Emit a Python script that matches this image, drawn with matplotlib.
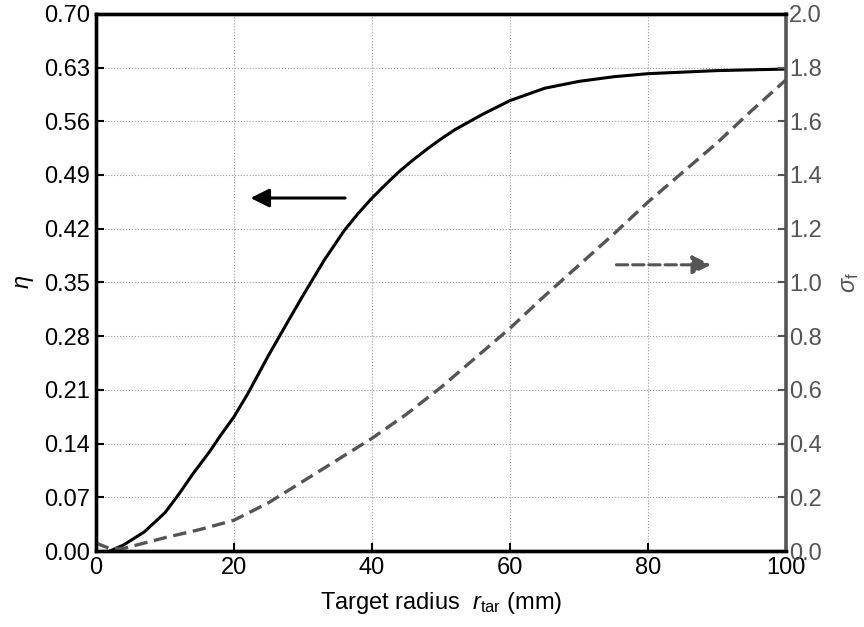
import matplotlib
matplotlib.use("Agg")
import matplotlib.pyplot as plt

plt.rcParams['font.family'] = ['Liberation Sans', 'DejaVu Sans']
plt.rcParams['mathtext.fontset'] = 'custom'
plt.rcParams['mathtext.rm'] = 'Liberation Sans'
plt.rcParams['mathtext.it'] = 'Liberation Sans:italic'

# target radius (mm)
r_eta = [2, 4, 7, 10, 12, 14, 16.5, 18, 20, 22, 25, 28, 30, 33, 36, 38, 40, 42, 44, 46, 48,
         50, 52, 56, 60, 65, 70, 75, 80, 85, 90, 95, 100]
eta = [0.0, 0.008, 0.025, 0.05, 0.074, 0.1, 0.13, 0.15, 0.175, 0.205, 0.255, 0.302, 0.333,
       0.378, 0.418, 0.44, 0.46, 0.478, 0.495, 0.51, 0.524, 0.537, 0.549, 0.569, 0.587,
       0.603, 0.612, 0.618, 0.622, 0.624, 0.626, 0.627, 0.628]

r_sig = [0, 2, 4, 7, 10, 15, 20, 25, 30, 35, 40, 45, 50, 55, 60, 65, 70, 75, 80, 85, 90,
         95, 100]
sigma = [0.03, 0.01, 0.01, 0.03, 0.05, 0.08, 0.115, 0.18, 0.26, 0.34, 0.42, 0.51, 0.61,
         0.72, 0.83, 0.95, 1.065, 1.18, 1.3, 1.41, 1.52, 1.64, 1.755]

eta_ticks = [0.0, 0.07, 0.14, 0.21, 0.28, 0.35, 0.42, 0.49, 0.56, 0.63, 0.70]
sig_ticks = [0.0, 0.2, 0.4, 0.6, 0.8, 1.0, 1.2, 1.4, 1.6, 1.8, 2.0]
x_ticks = [0, 20, 40, 60, 80, 100]

gray = '#555555'

fig = plt.figure(figsize=(8.64, 6.27), dpi=100)
ax = fig.add_axes([0.111, 0.121, 0.799, 0.857])
ax2 = ax.twinx()

ax.plot(r_eta, eta, color='black', lw=2.2)
ax2.plot(r_sig, sigma, color=gray, lw=2.4, ls=(0, (4, 2)))

ax.set_xlim(0, 100)
ax.set_ylim(0, 0.70)
ax2.set_ylim(0, 2.0)
ax.set_xticks(x_ticks)
ax.set_yticks(eta_ticks)
ax.set_yticklabels(['%.2f' % v for v in eta_ticks])
ax2.set_yticks(sig_ticks)
ax2.set_yticklabels(['%.1f' % v for v in sig_ticks])

ax.grid(True, color='#999999', ls=':', lw=0.8)
ax.tick_params(direction='in', labelsize=17, length=6, width=1.5, colors='black', pad=4)
ax2.tick_params(direction='in', labelsize=17, length=6, width=1.5, colors=gray, pad=2)

for s in ['left', 'bottom', 'top']:
    ax.spines[s].set_linewidth(2.4)
    ax2.spines[s].set_linewidth(2.4)
ax.spines['right'].set_visible(False)
ax2.spines['right'].set_color(gray)
ax2.spines['right'].set_linewidth(2.6)

ax.set_ylabel(r'$\mathit{\eta}$', fontsize=17, labelpad=6)
ax2.set_ylabel(r'$\mathit{\sigma}_\mathrm{f}$', fontsize=17, color=gray, labelpad=12)
ax.set_xlabel(r'Target radius  $\mathit{r}_\mathrm{tar}$ (mm)', fontsize=17, labelpad=8)

ax.annotate('', xy=(22, 0.46), xytext=(36.5, 0.46),
            arrowprops=dict(arrowstyle='-|>', color='black', lw=2.2, mutation_scale=28))
ax.annotate('', xy=(89.5, 0.373), xytext=(75, 0.373),
            arrowprops=dict(arrowstyle='-|>', color=gray, lw=2.2, ls='--', mutation_scale=28))

fig.savefig('out.png', dpi=100)
